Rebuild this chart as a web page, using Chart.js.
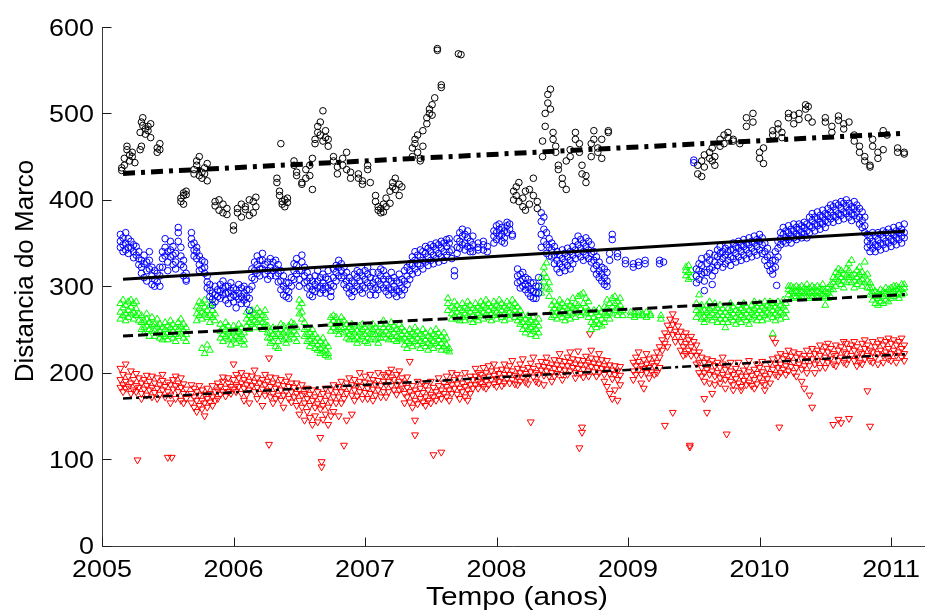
<!DOCTYPE html>
<html>
<head>
<meta charset="utf-8">
<script src="https://cdn.jsdelivr.net/npm/chart.js@4"></script>
<style>
  html, body { margin: 0; padding: 0; background: #ffffff; }
  #wrap { width: 925px; height: 613px; position: relative; }
</style>
</head>
<body>
<div id="wrap"><canvas id="chart" width="925" height="613"></canvas></div>
<script>
// Axis ticks
const xTicks = [2005, 2006, 2007, 2008, 2009, 2010, 2011];
const yTicks = [0, 100, 200, 300, 400, 500, 600];

// Readings per date: [decimal year, value, value, ...]
const blackRows = [
  [2005.15, 437, 434], [2005.17, 440, 448], [2005.19, 458, 462], [2005.21, 452, 445],
  [2005.23, 455, 450], [2005.25, 443], [2005.29, 478, 458], [2005.30, 490, 462],
  [2005.31, 495, 486], [2005.33, 482, 476], [2005.35, 480, 485], [2005.37, 472, 488],
  [2005.42, 455, 460], [2005.44, 465, 458], [2005.60, 402, 398], [2005.62, 405, 408, 395],
  [2005.64, 410, 406], [2005.70, 430, 435], [2005.72, 440, 445], [2005.74, 450, 428],
  [2005.76, 425, 432], [2005.78, 437, 430], [2005.80, 442, 422], [2005.86, 398, 393],
  [2005.89, 400, 388], [2005.92, 395, 385], [2005.95, 383, 390], [2006.00, 365, 370],
  [2006.03, 390, 385], [2006.06, 380, 395], [2006.09, 392, 389], [2006.12, 400, 382],
  [2006.15, 398, 385], [2006.17, 403, 392], [2006.33, 420, 425], [2006.35, 410, 405],
  [2006.36, 465], [2006.37, 398, 395], [2006.39, 392, 400], [2006.41, 402, 397],
  [2006.46, 440, 445], [2006.48, 432, 428], [2006.52, 420, 418], [2006.55, 425, 435],
  [2006.58, 440, 428], [2006.60, 412, 448], [2006.62, 465, 470], [2006.64, 478, 485],
  [2006.66, 490, 475], [2006.68, 503, 468], [2006.70, 480, 472], [2006.72, 462, 470],
  [2006.76, 450, 445], [2006.79, 438, 430], [2006.83, 440, 448], [2006.86, 455, 435],
  [2006.89, 425, 432], [2006.95, 430, 425], [2006.98, 418, 422], [2007.02, 440, 435],
  [2007.04, 420], [2007.08, 405, 398], [2007.10, 392, 388], [2007.12, 385, 390],
  [2007.14, 395, 386], [2007.16, 392, 402], [2007.19, 396, 410], [2007.21, 415, 420],
  [2007.23, 412, 425], [2007.26, 418, 405], [2007.28, 415], [2007.36, 450, 460],
  [2007.38, 470, 465], [2007.40, 475, 455], [2007.42, 448, 445], [2007.44, 462, 480],
  [2007.47, 488, 495], [2007.49, 500, 505], [2007.51, 510, 498], [2007.53, 518],
  [2007.55, 575, 573], [2007.58, 530, 533], [2007.71, 569], [2007.73, 568],
  [2008.13, 400, 410], [2008.15, 415, 405], [2008.17, 420, 398], [2008.20, 392, 402],
  [2008.22, 410, 388], [2008.25, 395, 412], [2008.28, 425, 405], [2008.31, 398, 390],
  [2008.35, 450, 468], [2008.37, 485, 500], [2008.39, 512, 522], [2008.41, 528, 505],
  [2008.43, 478, 470], [2008.45, 462, 455], [2008.47, 440, 435], [2008.50, 425, 418],
  [2008.53, 412, 445], [2008.56, 458, 450], [2008.60, 470, 478], [2008.63, 465, 455],
  [2008.65, 440, 430], [2008.68, 420, 428], [2008.72, 450, 465], [2008.74, 480, 470],
  [2008.77, 460, 455], [2008.80, 448, 470], [2008.85, 480, 478], [2009.53, 440, 430],
  [2009.56, 427, 445], [2009.58, 452, 438], [2009.62, 448, 455], [2009.64, 460, 445],
  [2009.66, 440, 450], [2009.70, 462, 470], [2009.73, 475, 465], [2009.76, 478, 472],
  [2009.80, 470, 468], [2009.85, 465], [2009.90, 495, 485], [2009.95, 500, 490],
  [2010.00, 448, 455], [2010.03, 460, 442], [2010.10, 475, 480], [2010.14, 488, 482],
  [2010.17, 478, 472], [2010.22, 495, 500], [2010.26, 498, 488], [2010.30, 493, 500],
  [2010.35, 505, 510], [2010.37, 508, 495], [2010.40, 490], [2010.50, 490, 495],
  [2010.55, 485, 478], [2010.60, 492, 497], [2010.64, 488, 482], [2010.68, 490],
  [2010.72, 475, 468], [2010.76, 462, 455], [2010.80, 450, 445], [2010.84, 440, 438],
  [2010.86, 462, 470], [2010.90, 455, 448], [2010.94, 458, 480], [2010.97, 475],
  [2011.05, 460, 455], [2011.10, 453, 455]
];

const blueRows = [
  [2005.14, 352, 345, 360], [2005.16, 356, 348, 340], [2005.18, 350, 342, 362], [2005.20, 345, 338, 355],
  [2005.22, 352, 344], [2005.24, 340, 333, 348], [2005.26, 346, 336], [2005.28, 332, 325, 340],
  [2005.30, 322, 315, 330], [2005.32, 336, 326, 310], [2005.34, 318, 306, 328], [2005.36, 330, 320, 340],
  [2005.38, 312, 302, 322], [2005.40, 308, 300, 318], [2005.42, 315, 305], [2005.44, 322, 312, 300],
  [2005.46, 332, 322, 340], [2005.48, 345, 335, 355], [2005.50, 340, 328, 318], [2005.52, 352, 342, 334],
  [2005.54, 346, 336, 325], [2005.56, 338, 328, 320], [2005.58, 362, 352, 368], [2005.60, 345, 335, 325],
  [2005.62, 322, 312, 330], [2005.64, 315, 308, 306], [2005.68, 355, 348, 362], [2005.70, 350, 342, 335],
  [2005.72, 340, 332, 345], [2005.74, 335, 325, 318], [2005.76, 330, 320], [2005.78, 322, 315, 328],
  [2005.80, 305, 298, 312], [2005.82, 295, 288, 302], [2005.84, 285, 278, 292], [2005.86, 290, 282, 300],
  [2005.88, 296, 288], [2005.90, 302, 294, 286], [2005.92, 298, 290, 306], [2005.94, 292, 284, 300],
  [2005.96, 300, 292, 280], [2005.98, 295, 287, 304], [2006.00, 290, 282, 298], [2006.02, 296, 288, 275],
  [2006.04, 302, 292, 285], [2006.06, 298, 288, 280], [2006.08, 292, 284, 300], [2006.10, 288, 280, 296],
  [2006.12, 296, 286, 272], [2006.14, 310, 300, 320], [2006.16, 318, 308, 328], [2006.18, 325, 315, 335],
  [2006.20, 320, 312, 330], [2006.22, 330, 320, 338], [2006.24, 325, 314], [2006.26, 318, 308, 328],
  [2006.28, 322, 312, 332], [2006.30, 328, 318], [2006.32, 320, 312, 330], [2006.34, 315, 305, 325],
  [2006.36, 306, 296, 318], [2006.38, 300, 290, 312], [2006.40, 296, 288, 304], [2006.42, 304, 294, 286],
  [2006.44, 310, 300], [2006.46, 318, 308, 326], [2006.48, 324, 314, 332], [2006.50, 318, 308, 300],
  [2006.52, 328, 318, 336], [2006.54, 322, 312, 304], [2006.56, 316, 306, 298], [2006.58, 310, 300, 290],
  [2006.60, 306, 296, 288], [2006.62, 312, 302, 294], [2006.64, 306, 298, 318], [2006.66, 310, 300, 292],
  [2006.68, 304, 296, 314], [2006.70, 300, 292, 310], [2006.72, 308, 298, 318], [2006.74, 302, 294, 288],
  [2006.76, 310, 300, 320], [2006.78, 316, 306, 324], [2006.80, 322, 312, 330], [2006.82, 318, 310, 326],
  [2006.84, 312, 302, 322], [2006.86, 306, 298, 316], [2006.88, 300, 292, 310], [2006.90, 296, 288, 306],
  [2006.92, 304, 294, 314], [2006.94, 310, 300, 318], [2006.96, 306, 296, 316], [2006.98, 300, 292, 312],
  [2007.00, 308, 298, 318], [2007.02, 314, 304, 322], [2007.04, 310, 300, 290], [2007.06, 304, 296, 316],
  [2007.08, 298, 290, 308], [2007.10, 306, 296, 316], [2007.12, 312, 302, 320], [2007.14, 308, 298, 318],
  [2007.16, 302, 294, 312], [2007.18, 298, 290, 308], [2007.20, 306, 296, 316], [2007.22, 300, 292, 310],
  [2007.24, 296, 288, 306], [2007.26, 304, 294, 314], [2007.28, 298, 290, 308], [2007.30, 306, 296, 318],
  [2007.32, 312, 302, 322], [2007.34, 318, 308, 326], [2007.36, 324, 314, 334], [2007.38, 330, 320, 340],
  [2007.40, 326, 316, 336], [2007.42, 334, 324, 342], [2007.44, 330, 320, 340], [2007.46, 338, 328, 346],
  [2007.48, 334, 324, 344], [2007.50, 340, 330, 348], [2007.52, 336, 326, 346], [2007.54, 342, 332, 350],
  [2007.56, 338, 328, 348], [2007.58, 344, 334, 352], [2007.60, 340, 330, 350], [2007.62, 346, 336, 354],
  [2007.64, 350, 340, 355], [2007.66, 342, 332], [2007.68, 318, 312], [2007.70, 345, 338, 355],
  [2007.72, 352, 344, 362], [2007.74, 358, 348, 366], [2007.76, 350, 342, 360], [2007.78, 356, 346, 364],
  [2007.80, 352, 344, 340], [2007.82, 348, 340, 358], [2007.86, 350, 342, 345], [2007.90, 342, 348, 352],
  [2007.93, 346, 340], [2007.98, 350, 358, 364], [2008.00, 362, 354, 370], [2008.02, 366, 358, 372],
  [2008.04, 360, 352, 368], [2008.06, 356, 350, 364], [2008.08, 370, 362, 374], [2008.10, 372, 366],
  [2008.12, 360, 358], [2008.16, 312, 304, 320], [2008.18, 306, 298, 314], [2008.20, 316, 308, 300],
  [2008.22, 310, 302, 296], [2008.24, 300, 292, 308], [2008.26, 296, 288, 304], [2008.28, 304, 294, 286],
  [2008.30, 292, 286, 300], [2008.32, 300, 292, 310], [2008.34, 345, 360, 375, 385], [2008.36, 352, 366, 380],
  [2008.38, 338, 348, 362], [2008.40, 335, 345, 355], [2008.42, 342, 334, 350], [2008.44, 336, 326, 346],
  [2008.46, 330, 320, 340], [2008.48, 326, 316, 336], [2008.50, 332, 322, 342], [2008.52, 328, 318, 338],
  [2008.54, 334, 324, 344], [2008.56, 330, 320, 340], [2008.58, 336, 326, 346], [2008.60, 342, 332, 352],
  [2008.62, 348, 338, 358], [2008.64, 344, 334, 354], [2008.66, 340, 330, 350], [2008.68, 346, 336, 356],
  [2008.70, 342, 332, 352], [2008.72, 338, 328, 348], [2008.74, 330, 320, 340], [2008.76, 324, 314, 334],
  [2008.78, 318, 310, 328], [2008.80, 314, 306, 322], [2008.82, 310, 302, 320], [2008.84, 306, 300, 316],
  [2008.86, 330, 338], [2008.88, 354, 360], [2008.92, 334, 338], [2008.98, 330, 326],
  [2009.04, 322, 326], [2009.08, 328, 324], [2009.13, 330, 326], [2009.24, 326, 330], [2009.27, 328],
  [2009.50, 443, 446], [2009.52, 312, 304, 320], [2009.54, 318, 308, 326], [2009.56, 324, 314, 332],
  [2009.58, 316, 306, 295], [2009.60, 326, 316, 334], [2009.62, 330, 320, 338], [2009.64, 322, 312, 302],
  [2009.66, 328, 318, 336], [2009.68, 334, 324, 342], [2009.70, 338, 328, 346], [2009.72, 332, 322, 340],
  [2009.74, 336, 326, 344], [2009.76, 340, 330, 348], [2009.78, 334, 324, 342], [2009.80, 342, 332, 350],
  [2009.82, 338, 328, 346], [2009.84, 344, 334, 352], [2009.86, 340, 330, 348], [2009.88, 346, 336, 354],
  [2009.90, 342, 332, 350], [2009.92, 348, 338, 356], [2009.94, 344, 334, 352], [2009.96, 350, 340, 358],
  [2009.98, 346, 336, 354], [2010.00, 352, 342, 360], [2010.02, 348, 338, 356], [2010.04, 340, 330, 350],
  [2010.06, 334, 324, 344], [2010.08, 326, 318, 336], [2010.10, 320, 314, 330], [2010.12, 330, 322, 340],
  [2010.13, 301], [2010.14, 344, 334, 352], [2010.16, 355, 348, 362], [2010.18, 360, 352, 368],
  [2010.20, 356, 350, 364], [2010.22, 362, 354, 370], [2010.24, 358, 350, 366], [2010.26, 364, 356, 372],
  [2010.28, 360, 354, 368], [2010.30, 366, 358, 372], [2010.32, 362, 356, 370], [2010.34, 368, 360, 374],
  [2010.36, 364, 356, 372], [2010.38, 370, 362, 380], [2010.40, 376, 368, 384], [2010.42, 372, 364, 380],
  [2010.44, 378, 370, 386], [2010.46, 374, 366, 382], [2010.48, 380, 372, 388], [2010.50, 376, 368, 384],
  [2010.52, 382, 374, 390], [2010.54, 386, 378, 394], [2010.56, 382, 374, 392], [2010.58, 388, 380, 396],
  [2010.60, 384, 376, 394], [2010.62, 390, 382, 398], [2010.64, 386, 378, 396], [2010.66, 392, 384, 400],
  [2010.68, 388, 380, 396], [2010.70, 384, 376, 392], [2010.72, 390, 382, 398], [2010.74, 386, 378, 394],
  [2010.76, 380, 372, 390], [2010.78, 376, 368, 386], [2010.80, 370, 362, 380], [2010.82, 360, 352, 345],
  [2010.84, 356, 348, 340], [2010.86, 352, 344, 362], [2010.88, 348, 340, 358], [2010.90, 354, 346, 362],
  [2010.92, 350, 342, 360], [2010.94, 356, 348, 364], [2010.96, 352, 344, 362], [2010.98, 358, 350, 366],
  [2011.00, 354, 346, 362], [2011.02, 360, 352, 368], [2011.04, 356, 348, 364], [2011.06, 362, 354, 370],
  [2011.08, 358, 350, 366], [2011.10, 362, 356, 372]
];

const greenRows = [
  [2005.14, 270, 262, 280], [2005.16, 275, 266, 284], [2005.18, 268, 260, 278], [2005.20, 272, 264, 282],
  [2005.22, 276, 268, 284], [2005.24, 270, 262, 280], [2005.26, 274, 266, 282], [2005.28, 268, 260],
  [2005.30, 258, 250, 266], [2005.32, 252, 245, 260], [2005.34, 262, 254, 268], [2005.36, 250, 242, 258],
  [2005.38, 256, 248, 264], [2005.40, 248, 242, 256], [2005.42, 254, 246, 262], [2005.44, 248, 240, 256],
  [2005.46, 244, 238, 252], [2005.48, 250, 242, 258], [2005.50, 246, 238, 254], [2005.52, 252, 244, 260],
  [2005.54, 248, 240, 256], [2005.56, 244, 236, 252], [2005.58, 250, 242, 258], [2005.60, 254, 246, 262],
  [2005.62, 248, 240, 256], [2005.64, 244, 236, 252], [2005.72, 268, 260, 276], [2005.74, 274, 266, 282],
  [2005.76, 270, 262, 280, 228], [2005.78, 276, 268, 284, 222], [2005.80, 272, 264, 232], [2005.82, 266, 258, 278, 226],
  [2005.84, 272, 264, 280], [2005.86, 268, 260], [2005.90, 248, 240, 256], [2005.92, 244, 236, 252],
  [2005.94, 250, 242, 258], [2005.96, 246, 238, 254], [2005.98, 240, 232, 248], [2006.00, 246, 238, 254],
  [2006.02, 242, 234, 250], [2006.04, 248, 240, 256], [2006.06, 244, 236, 252], [2006.08, 238, 232, 246],
  [2006.10, 254, 262, 270], [2006.12, 258, 250, 266], [2006.14, 264, 256, 272], [2006.16, 260, 252, 268],
  [2006.18, 266, 258, 274], [2006.20, 262, 254, 270], [2006.22, 258, 250, 266], [2006.24, 264, 256, 272],
  [2006.26, 254, 246, 240], [2006.28, 248, 240, 234], [2006.30, 244, 236, 252], [2006.32, 250, 242, 230],
  [2006.34, 244, 236, 228], [2006.36, 250, 242, 256], [2006.38, 246, 238, 254], [2006.40, 240, 234, 248],
  [2006.42, 246, 238, 254], [2006.44, 252, 244, 258], [2006.46, 248, 240, 256], [2006.48, 244, 236, 252],
  [2006.50, 268, 276, 284], [2006.52, 262, 270, 280], [2006.54, 250, 242, 258], [2006.56, 244, 236, 252],
  [2006.58, 238, 230, 246], [2006.60, 242, 234, 250], [2006.62, 236, 228, 244], [2006.64, 232, 226, 240],
  [2006.66, 228, 222, 236], [2006.68, 232, 224, 240], [2006.70, 226, 220, 234], [2006.72, 222, 218, 230],
  [2006.74, 248, 256, 264], [2006.76, 252, 260, 266], [2006.78, 256, 264, 248], [2006.80, 250, 258, 244],
  [2006.82, 258, 264, 252], [2006.84, 252, 246, 260], [2006.86, 248, 240, 256], [2006.88, 244, 238, 252],
  [2006.90, 250, 242, 256], [2006.92, 246, 238, 254], [2006.94, 240, 234, 248], [2006.96, 246, 238, 254],
  [2006.98, 250, 242, 256], [2007.00, 244, 236, 252], [2007.02, 240, 234, 248], [2007.04, 246, 238, 254],
  [2007.06, 250, 244, 256], [2007.08, 244, 238, 252], [2007.10, 240, 234, 248], [2007.12, 246, 240, 256],
  [2007.14, 252, 244, 260], [2007.16, 248, 240, 256], [2007.18, 244, 238, 252], [2007.20, 250, 242, 258],
  [2007.22, 246, 238, 254], [2007.24, 242, 236, 250], [2007.26, 248, 240, 256], [2007.28, 244, 238, 252],
  [2007.30, 240, 232, 248], [2007.32, 236, 228, 244], [2007.34, 242, 234, 250], [2007.36, 238, 230, 246],
  [2007.38, 244, 236, 252], [2007.40, 240, 232, 248], [2007.42, 236, 228, 244], [2007.44, 242, 234, 250],
  [2007.46, 238, 230, 246], [2007.48, 234, 226, 242], [2007.50, 240, 232, 248], [2007.52, 236, 228, 244],
  [2007.54, 242, 234, 250], [2007.56, 238, 230, 246], [2007.58, 234, 226, 242], [2007.60, 238, 230, 246],
  [2007.62, 232, 226, 240], [2007.64, 228, 224], [2007.63, 272, 280, 286], [2007.66, 268, 276, 262],
  [2007.68, 274, 282, 266], [2007.70, 270, 262, 278], [2007.72, 266, 274, 260], [2007.74, 272, 280, 264],
  [2007.76, 268, 260, 276], [2007.78, 274, 282, 266], [2007.80, 270, 262, 278], [2007.82, 266, 274, 258],
  [2007.84, 272, 280, 264], [2007.86, 268, 276, 260], [2007.88, 274, 282, 266], [2007.90, 270, 262, 278],
  [2007.92, 276, 284, 268], [2007.94, 272, 264, 280], [2007.96, 268, 276, 260], [2007.98, 274, 282, 266],
  [2008.00, 270, 262, 278], [2008.02, 276, 284, 268], [2008.04, 272, 264, 280], [2008.06, 268, 276, 260],
  [2008.08, 274, 282, 266], [2008.10, 270, 262, 278], [2008.12, 276, 268, 284], [2008.14, 272, 264, 280],
  [2008.16, 268, 276, 260], [2008.18, 264, 272, 256], [2008.20, 258, 266, 250], [2008.22, 254, 262, 246],
  [2008.24, 258, 250, 266], [2008.26, 252, 244, 260], [2008.28, 256, 248, 264], [2008.30, 250, 242, 258],
  [2008.32, 254, 246, 262], [2008.34, 292, 300, 310], [2008.36, 305, 315, 322], [2008.38, 298, 310, 327],
  [2008.40, 288, 296, 304], [2008.42, 270, 278, 264], [2008.44, 274, 282, 266], [2008.46, 270, 262, 278],
  [2008.48, 276, 284, 268], [2008.50, 272, 264, 280], [2008.52, 268, 276, 260], [2008.54, 274, 282, 266],
  [2008.56, 270, 262, 278], [2008.58, 276, 286, 268], [2008.60, 272, 264, 280], [2008.62, 278, 288, 270],
  [2008.64, 274, 266, 290], [2008.66, 280, 270, 292], [2008.68, 276, 268, 286], [2008.70, 272, 264, 282],
  [2008.72, 268, 258, 250], [2008.74, 264, 256, 272], [2008.76, 270, 260, 252], [2008.78, 266, 256, 274],
  [2008.80, 262, 254, 270], [2008.82, 268, 258, 276], [2008.84, 274, 266, 284], [2008.86, 270, 262, 280],
  [2008.88, 276, 268, 286], [2008.90, 280, 272, 288], [2008.92, 274, 266, 282], [2008.94, 278, 270, 286],
  [2008.96, 272, 266], [2009.02, 266, 270], [2009.05, 268, 264], [2009.08, 270, 266], [2009.11, 266, 268],
  [2009.14, 264, 270], [2009.17, 268, 266], [2009.25, 262, 266], [2009.44, 312, 318, 322],
  [2009.46, 308, 316, 324], [2009.48, 310, 318], [2009.52, 272, 264, 280], [2009.54, 276, 268, 290],
  [2009.56, 270, 262, 278], [2009.58, 264, 258, 272], [2009.60, 270, 262, 278], [2009.62, 274, 266, 282],
  [2009.64, 268, 260, 276], [2009.66, 272, 264, 280], [2009.68, 266, 258, 274], [2009.70, 270, 262, 278],
  [2009.72, 266, 258, 274], [2009.74, 270, 262, 252], [2009.76, 266, 258, 274], [2009.78, 272, 264, 280],
  [2009.80, 268, 260, 276], [2009.82, 264, 256, 272], [2009.84, 270, 262, 278], [2009.86, 266, 258, 274],
  [2009.88, 272, 264, 280], [2009.90, 268, 260, 276], [2009.92, 264, 256, 272], [2009.94, 270, 262, 278],
  [2009.96, 274, 266, 282], [2009.98, 268, 260, 276], [2010.00, 272, 264, 280], [2010.02, 268, 260, 276],
  [2010.04, 274, 266, 282], [2010.06, 270, 262, 278], [2010.08, 276, 268, 282], [2010.10, 272, 264, 280, 245],
  [2010.12, 268, 260, 276], [2010.14, 274, 266, 282], [2010.16, 270, 262, 278], [2010.18, 276, 268, 284],
  [2010.20, 272, 264, 280], [2010.22, 290, 296, 300], [2010.24, 286, 294, 300], [2010.26, 292, 298, 288],
  [2010.28, 288, 294, 300], [2010.30, 292, 298, 286], [2010.32, 288, 294, 300], [2010.34, 292, 298, 288],
  [2010.36, 288, 296, 302], [2010.38, 292, 298, 286], [2010.40, 288, 294, 300], [2010.42, 292, 298, 286],
  [2010.44, 288, 294, 300], [2010.46, 286, 292, 298], [2010.48, 290, 296, 302], [2010.50, 288, 294, 278],
  [2010.52, 292, 298, 286], [2010.54, 288, 296, 302], [2010.56, 296, 304, 310], [2010.58, 300, 308, 316],
  [2010.60, 306, 314, 320], [2010.62, 302, 310, 318], [2010.64, 298, 306, 314], [2010.66, 304, 312, 320],
  [2010.68, 310, 318, 326], [2010.70, 304, 312, 330], [2010.72, 298, 306, 314], [2010.74, 302, 310, 318],
  [2010.76, 306, 314, 322], [2010.78, 300, 308, 316], [2010.80, 304, 312, 328], [2010.82, 298, 306, 314],
  [2010.84, 290, 298, 304], [2010.86, 284, 292, 298], [2010.88, 280, 288, 294], [2010.90, 278, 286, 292],
  [2010.92, 282, 290, 296], [2010.94, 280, 288, 294], [2010.96, 284, 292, 298], [2010.98, 282, 290, 296],
  [2011.00, 286, 292, 298], [2011.02, 288, 294, 300], [2011.04, 290, 296, 300], [2011.06, 286, 292, 298],
  [2011.08, 290, 296, 302], [2011.10, 292, 298, 302]
];

const redRows = [
  [2005.14, 205, 192, 183], [2005.16, 198, 186, 178], [2005.18, 210, 190, 182], [2005.20, 196, 184],
  [2005.22, 202, 188, 176], [2005.24, 192, 180], [2005.26, 185, 178, 199], [2005.27, 99],
  [2005.28, 194, 183], [2005.30, 188, 176, 170], [2005.32, 192, 181], [2005.34, 185, 174, 197],
  [2005.36, 190, 180], [2005.38, 183, 172, 196], [2005.40, 188, 177], [2005.42, 194, 182, 170],
  [2005.44, 186, 175], [2005.46, 191, 180, 198], [2005.48, 184, 172], [2005.50, 102, 189, 178],
  [2005.52, 186, 174, 165], [2005.53, 102], [2005.54, 192, 181], [2005.56, 185, 170, 196],
  [2005.58, 178, 188], [2005.60, 183, 168, 194], [2005.62, 176, 187, 165], [2005.64, 181, 170],
  [2005.68, 176, 165, 186], [2005.70, 172, 160, 182], [2005.72, 168, 178, 155], [2005.74, 174, 162, 185],
  [2005.76, 168, 158, 180], [2005.78, 175, 165, 150], [2005.80, 170, 182, 160], [2005.82, 176, 166],
  [2005.84, 172, 185, 162], [2005.86, 168, 178], [2005.88, 180, 170, 188], [2005.90, 184, 175],
  [2005.92, 190, 178, 195], [2005.94, 182, 173], [2005.96, 188, 178, 194], [2005.98, 184, 176],
  [2006.00, 192, 181, 210], [2006.02, 186, 178, 198], [2006.04, 194, 184], [2006.06, 188, 176, 200],
  [2006.08, 192, 182, 168], [2006.10, 197, 186, 175], [2006.12, 190, 180, 165], [2006.14, 196, 185],
  [2006.16, 189, 178, 203], [2006.18, 194, 183, 170], [2006.20, 188, 176], [2006.22, 192, 181, 162],
  [2006.24, 186, 174, 198], [2006.26, 190, 179], [2006.27, 217, 117], [2006.28, 184, 172, 195],
  [2006.30, 188, 176, 165], [2006.32, 182, 170, 194], [2006.34, 186, 174], [2006.36, 180, 168, 192],
  [2006.38, 185, 174, 160], [2006.40, 190, 178], [2006.42, 184, 170, 196], [2006.44, 178, 166, 188],
  [2006.46, 183, 172], [2006.48, 188, 176, 162], [2006.50, 180, 168, 152], [2006.52, 186, 174, 160],
  [2006.54, 176, 165, 145], [2006.56, 182, 170, 155], [2006.58, 175, 162, 148], [2006.60, 180, 168, 140],
  [2006.62, 172, 160, 150], [2006.64, 178, 164, 143], [2006.66, 170, 158, 125], [2006.67, 97, 91],
  [2006.68, 176, 162, 146], [2006.70, 182, 168, 152], [2006.72, 174, 160, 140], [2006.74, 180, 166, 150],
  [2006.76, 186, 172, 155], [2006.78, 178, 165], [2006.80, 184, 172, 150], [2006.82, 190, 178, 165],
  [2006.84, 182, 170, 116], [2006.86, 188, 176, 145], [2006.88, 194, 182], [2006.90, 186, 174, 152],
  [2006.92, 192, 180, 168], [2006.94, 185, 173], [2006.96, 190, 178, 200], [2006.98, 184, 170],
  [2007.00, 189, 177, 196], [2007.02, 182, 170], [2007.04, 188, 176, 198], [2007.06, 192, 181, 168],
  [2007.08, 186, 174], [2007.10, 191, 180, 200], [2007.12, 185, 172], [2007.14, 190, 178, 198],
  [2007.16, 196, 186, 172], [2007.18, 200, 190, 178], [2007.20, 195, 185, 204], [2007.22, 192, 180],
  [2007.24, 198, 186, 175], [2007.26, 202, 190, 180], [2007.28, 194, 182], [2007.30, 188, 176, 165],
  [2007.32, 183, 172, 195], [2007.34, 178, 166, 213], [2007.36, 185, 174, 160], [2007.38, 180, 168, 145, 128],
  [2007.40, 176, 164, 190], [2007.42, 182, 170], [2007.44, 177, 166, 188], [2007.46, 172, 162, 185],
  [2007.48, 180, 168], [2007.50, 175, 165, 190], [2007.52, 183, 172, 105], [2007.54, 178, 168],
  [2007.56, 185, 174, 194], [2007.58, 180, 170, 108], [2007.60, 188, 176], [2007.62, 184, 172, 196],
  [2007.64, 190, 180, 168], [2007.66, 186, 176, 200], [2007.68, 192, 182], [2007.70, 187, 175, 198],
  [2007.72, 182, 170, 194], [2007.74, 188, 178], [2007.76, 184, 172, 200], [2007.78, 190, 180, 168],
  [2007.80, 186, 176, 196], [2007.82, 192, 182], [2007.84, 196, 186, 205], [2007.86, 190, 182, 200],
  [2007.88, 198, 188], [2007.90, 194, 184, 206], [2007.92, 200, 190, 182], [2007.94, 196, 186, 208],
  [2007.96, 202, 192], [2007.98, 197, 187, 210], [2008.00, 193, 184, 203], [2008.02, 199, 190],
  [2008.04, 204, 194, 185], [2008.06, 198, 188, 210], [2008.08, 203, 193], [2008.10, 208, 198, 188],
  [2008.12, 202, 192, 214], [2008.14, 197, 187], [2008.16, 205, 195, 186], [2008.18, 210, 200, 190],
  [2008.20, 204, 194, 216], [2008.22, 199, 189], [2008.24, 206, 196, 187], [2008.26, 211, 201, 143],
  [2008.28, 205, 195, 218], [2008.30, 200, 190], [2008.32, 208, 198, 188], [2008.34, 213, 203],
  [2008.36, 207, 197, 186], [2008.38, 212, 202, 218], [2008.40, 206, 196], [2008.42, 210, 200, 190],
  [2008.44, 215, 205, 196], [2008.46, 209, 199], [2008.48, 214, 204, 222], [2008.50, 208, 198, 192],
  [2008.52, 213, 203], [2008.54, 218, 208, 198], [2008.56, 212, 202, 224], [2008.58, 216, 206],
  [2008.60, 210, 200, 194], [2008.62, 215, 205, 225], [2008.63, 113], [2008.64, 209, 199],
  [2008.65, 137, 131], [2008.66, 214, 204, 195], [2008.68, 219, 209], [2008.70, 212, 202, 196],
  [2008.71, 245], [2008.72, 217, 207, 226], [2008.74, 211, 201], [2008.76, 216, 206, 196],
  [2008.78, 210, 200, 222], [2008.80, 215, 205], [2008.82, 208, 198, 190], [2008.84, 214, 204, 184],
  [2008.86, 209, 199, 176], [2008.88, 203, 193, 170], [2008.90, 208, 198, 180], [2008.92, 202, 192, 168],
  [2008.94, 207, 197, 186], [2009.04, 212, 202, 192], [2009.06, 218, 208, 198], [2009.08, 213, 203, 224],
  [2009.10, 208, 198, 188], [2009.12, 215, 205, 182], [2009.14, 210, 200, 222], [2009.16, 216, 206, 194],
  [2009.18, 211, 201], [2009.20, 218, 208, 198], [2009.22, 224, 212, 200], [2009.24, 230, 218, 206],
  [2009.26, 238, 226], [2009.28, 246, 234, 139], [2009.30, 255, 242, 230], [2009.32, 262, 250],
  [2009.34, 268, 256, 244, 154], [2009.36, 260, 248, 236], [2009.38, 254, 242], [2009.40, 248, 236, 226],
  [2009.42, 242, 230, 220], [2009.44, 246, 234, 222], [2009.46, 238, 226], [2009.47, 116, 114],
  [2009.48, 242, 230, 220], [2009.50, 236, 224], [2009.52, 232, 220, 210], [2009.54, 224, 212, 200],
  [2009.56, 218, 206, 196], [2009.58, 212, 200, 190, 170], [2009.60, 216, 204, 154], [2009.62, 210, 198, 188],
  [2009.64, 214, 202, 176], [2009.66, 208, 196, 186], [2009.68, 212, 200], [2009.70, 206, 194, 188],
  [2009.72, 210, 198, 218], [2009.74, 204, 192, 182], [2009.75, 129], [2009.76, 208, 196],
  [2009.78, 202, 190, 212], [2009.80, 198, 186, 180], [2009.82, 205, 193], [2009.84, 200, 188, 212],
  [2009.86, 196, 184, 180], [2009.88, 203, 191], [2009.90, 208, 196, 186], [2009.92, 201, 189, 214],
  [2009.94, 197, 185], [2009.96, 204, 192, 182], [2009.98, 199, 187, 210], [2010.00, 206, 194],
  [2010.02, 201, 189, 213], [2010.04, 197, 186, 180], [2010.06, 205, 193], [2010.08, 211, 199, 188],
  [2010.10, 216, 204, 240], [2010.12, 210, 198, 235], [2010.14, 218, 206, 196], [2010.15, 137],
  [2010.16, 222, 210, 200], [2010.18, 216, 204], [2010.20, 220, 208, 198], [2010.22, 214, 202, 226],
  [2010.24, 219, 207], [2010.26, 224, 212, 200], [2010.28, 218, 206, 196], [2010.30, 222, 210],
  [2010.32, 216, 204, 190], [2010.34, 220, 208, 182], [2010.36, 226, 214, 200], [2010.38, 220, 208, 174],
  [2010.40, 228, 216, 160], [2010.42, 222, 210, 200], [2010.44, 226, 214], [2010.46, 232, 220, 206],
  [2010.48, 225, 213], [2010.50, 230, 218, 206], [2010.52, 224, 212, 234], [2010.54, 228, 216],
  [2010.56, 222, 210, 140], [2010.58, 232, 220, 208], [2010.60, 226, 214, 146], [2010.62, 230, 218, 142],
  [2010.64, 224, 212, 236], [2010.66, 234, 222, 210], [2010.68, 228, 216, 147], [2010.70, 232, 220],
  [2010.72, 226, 214, 236], [2010.74, 230, 218, 208], [2010.76, 224, 212], [2010.78, 234, 222, 210],
  [2010.80, 228, 216, 238], [2010.82, 232, 220, 179], [2010.84, 226, 214, 138], [2010.86, 236, 224, 212],
  [2010.88, 230, 218], [2010.90, 234, 222, 210], [2010.92, 238, 226], [2010.94, 232, 220, 212],
  [2010.96, 236, 224], [2010.98, 240, 228, 216], [2011.00, 234, 222, 214], [2011.02, 238, 226],
  [2011.04, 232, 220, 212], [2011.06, 236, 224], [2011.08, 240, 228, 218], [2011.10, 232, 222, 214]
];

// Fitted linear trends: values at the first and last date of the record
const trendYears = [2005.16, 2011.105];
const blackTrend = [430.6, 477.0];
const blueTrend = [308.0, 363.6];
const greenTrend = [242.5, 290.4];
const redTrend = [170.0, 221.4];

const toPoints = rows => rows.flatMap(([t, ...vals]) => vals.map(v => ({ x: t, y: v })));
const toLine = vals => trendYears.map((t, i) => ({ x: t, y: vals[i] }));

function markerSet(rows, color, style, radius, rotation) {
  return {
    data: toPoints(rows),
    showLine: false,
    pointStyle: style,
    pointRadius: radius,
    pointRotation: rotation,
    pointBorderColor: color,
    pointBackgroundColor: 'rgba(0,0,0,0)',
    pointBorderWidth: 1,
    order: 2
  };
}

function trendSet(vals, width, dash) {
  return {
    data: toLine(vals),
    showLine: true,
    borderColor: '#000000',
    borderWidth: width,
    borderDash: dash,
    borderCapStyle: 'butt',
    pointRadius: 0,
    fill: false,
    order: 1
  };
}

const TEXT_STRETCH = 1.17;
const FONT = '"Liberation Sans", Arial, sans-serif';

function wideText(ctx, txt, x, y, align, size, stretch) {
  ctx.save();
  ctx.font = size + 'px ' + FONT;
  ctx.translate(x, y);
  ctx.scale(stretch, 1);
  ctx.textAlign = align;
  ctx.textBaseline = 'alphabetic';
  ctx.fillText(txt, 0, 0);
  ctx.restore();
}

// Draws the axis lines, inward ticks, tick labels and axis titles
const axesPlugin = {
  id: 'matlabAxes',
  afterDraw(chart) {
    const ctx = chart.ctx;
    const xs = chart.scales.x, ys = chart.scales.y;
    const left = Math.round(xs.left) + 0.5;
    const bottom = Math.round(ys.bottom) + 0.5;
    const top = ys.getPixelForValue(600);
    ctx.save();
    ctx.strokeStyle = '#3c3c3c';
    ctx.lineWidth = 1;
    ctx.beginPath();
    ctx.moveTo(left, top);
    ctx.lineTo(left, bottom);
    ctx.lineTo(chart.width, bottom);
    ctx.stroke();

    ctx.strokeStyle = '#1a1a1a';
    ctx.beginPath();
    yTicks.forEach(v => {
      const y = Math.round(ys.getPixelForValue(v)) + 0.5;
      ctx.moveTo(left, y); ctx.lineTo(left + 9, y);
    });
    xTicks.forEach(v => {
      const x = Math.round(xs.getPixelForValue(v)) + 0.5;
      ctx.moveTo(x, bottom); ctx.lineTo(x, bottom - 9);
    });
    ctx.stroke();

    ctx.fillStyle = '#000000';
    yTicks.forEach(v => {
      wideText(ctx, String(v), 94, ys.getPixelForValue(v) + 8.5, 'right', 23, TEXT_STRETCH);
    });
    xTicks.forEach(v => {
      wideText(ctx, String(v), xs.getPixelForValue(v), 577, 'center', 23, TEXT_STRETCH);
    });
    wideText(ctx, 'Tempo (anos)', 517, 605, 'center', 25, 1.19);

    ctx.save();
    ctx.font = '26px ' + FONT;
    ctx.translate(33, 271);
    ctx.rotate(-Math.PI / 2);
    ctx.textAlign = 'center';
    ctx.textBaseline = 'alphabetic';
    ctx.fillText('Distancia do Marco', 0, 0);
    ctx.restore();
    ctx.restore();
  }
};

new Chart(document.getElementById('chart'), {
  type: 'scatter',
  data: {
    datasets: [
      trendSet(blackTrend, 5, [12, 6, 4, 6]),
      trendSet(blueTrend, 3, []),
      trendSet(greenTrend, 3, [10, 5]),
      trendSet(redTrend, 2.5, [9, 4, 3, 4]),
      markerSet(blackRows, '#000000', 'circle', 3.3, 0),
      markerSet(blueRows, '#0000ff', 'circle', 3.3, 0),
      markerSet(greenRows, '#00ff00', 'triangle', 4, 0),
      markerSet(redRows, '#ff0000', 'triangle', 4, 180)
    ]
  },
  options: {
    responsive: false,
    animation: false,
    devicePixelRatio: 1,
    layout: { padding: { top: 27, left: 0, right: 0, bottom: 0 } },
    plugins: { legend: { display: false }, tooltip: { enabled: false } },
    scales: {
      x: {
        type: 'linear', min: 2005, max: 2011.22,
        grid: { display: false }, border: { display: false },
        ticks: { display: false },
        afterFit(scale) { scale.height = 67.5; }
      },
      y: {
        type: 'linear', min: 0, max: 600,
        grid: { display: false }, border: { display: false },
        ticks: { display: false },
        afterFit(scale) { scale.width = 102; }
      }
    }
  },
  plugins: [axesPlugin]
});
</script>
</body>
</html>
